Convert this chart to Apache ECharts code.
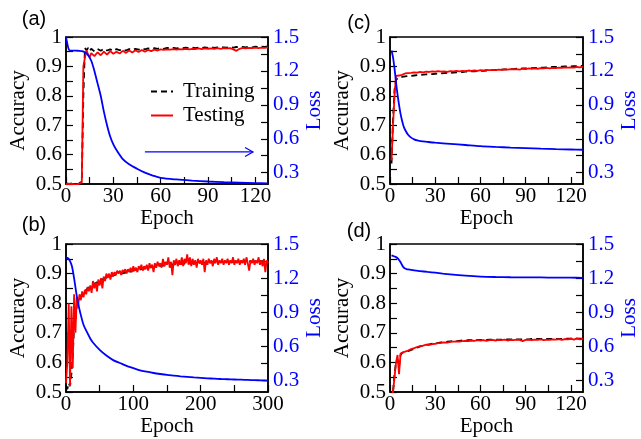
<!DOCTYPE html>
<html><head><meta charset="utf-8">
<script src="https://cdn.jsdelivr.net/npm/echarts@6/dist/echarts.min.js"></script>
<style>html,body{margin:0;padding:0;background:#fff}#c{width:641px;height:439px}</style>
</head><body><div id="c"></div><script>
function range(a,b,s){const r=[];for(let v=a;v<=b+1e-9;v+=s)r.push(+v.toFixed(4));return r;}

// ---- tick values / labels ----
const accTicks = [0.5,0.55,0.6,0.65,0.7,0.75,0.8,0.85,0.9,0.95,1.0];
const accLabels = [0.5,0.6,0.7,0.8,0.9,1.0];
const lossTicks = [0.3,0.45,0.6,0.75,0.9,1.05,1.2,1.35,1.5];
const lossLabels = [0.3,0.6,0.9,1.2,1.5];
const epochTicks128 = [0,15,30,45,60,75,90,105,120];
const epochLabels128 = [0,30,60,90,120];
const epochTicks300 = [0,50,100,150,200,250,300];
const epochLabels300 = [0,100,200,300];

// ---- panel (a) ----
const epochsA = [0,2,4,6,8,9,10,11,12,13,14,15].concat(range(16,128,2));
const trainA = [0.502,0.500,0.502,0.500,0.500,0.500,0.510,0.800,0.962,0.955,0.963,0.952,
 0.960,0.951,0.959,0.953,0.960,0.954,0.958,0.953,0.959,0.955,
 0.958,0.954,0.959,0.956,0.960,0.957,0.961,0.958,0.961,0.959,
 0.962,0.960,0.962,0.960,0.963,0.961,0.963,0.961,0.963,0.962,
 0.964,0.962,0.964,0.962,0.964,0.963,0.965,0.963,0.965,0.963,
 0.965,0.964,0.965,0.964,0.966,0.964,0.966,0.965,0.966,0.965,
 0.967,0.965,0.967,0.966,0.967,0.966,0.968];
const testA = [0.500,0.500,0.500,0.498,0.500,0.500,0.505,0.900,0.930,0.955,0.940,0.932,
 0.945,0.935,0.948,0.938,0.950,0.940,0.952,0.943,0.950,0.944,
 0.953,0.946,0.954,0.947,0.955,0.949,0.956,0.950,0.956,0.952,
 0.957,0.954,0.958,0.956,0.958,0.957,0.959,0.957,0.959,0.958,
 0.960,0.958,0.960,0.959,0.961,0.959,0.961,0.960,0.961,0.960,
 0.962,0.960,0.962,0.961,0.962,0.958,0.953,0.960,0.963,0.961,
 0.963,0.962,0.964,0.962,0.964,0.963,0.965];
const lossEpochsA = [0,1,2,4,6,8,10,12,14,16,18,20,22,24,26,28,30,32,36,40,45,50,55,60,70,80,90,100,110,120,128];
const lossA = [1.50,1.43,1.385,1.38,1.38,1.378,1.375,1.365,1.34,1.29,1.20,1.09,0.98,0.84,0.72,0.62,0.55,0.50,0.42,0.375,0.335,0.30,0.275,0.255,0.24,0.23,0.222,0.216,0.212,0.208,0.205];

// ---- panel (b) ----
const epochsB = range(0,300,2);
const trainB = [
 0.52,0.51,0.53,0.52,0.56,0.62,0.72,0.74,0.79,0.80,
 0.815,0.82,0.83,0.835,0.84,0.845,0.85,0.852,0.856,0.858,
 0.862,0.865,0.868,0.87,0.873,0.875,0.878,0.879,0.882,0.883,
 0.886,0.887,0.889,0.89,0.892,0.893,0.895,0.896,0.898,0.899,
 0.90,0.905,0.901,0.907,0.903,0.909,0.905,0.911,0.907,0.913,
 0.91,0.915,0.912,0.917,0.913,0.919,0.915,0.921,0.917,0.923,
 0.919,0.924,0.92,0.926,0.922,0.927,0.923,0.929,0.925,0.93,
 0.926,0.931,0.927,0.932,0.928,0.933,0.929,0.934,0.93,0.935,
 0.931,0.936,0.932,0.937,0.933,0.937,0.933,0.938,0.934,0.938,
 0.934,0.939,0.935,0.939,0.935,0.94,0.936,0.94,0.936,0.94,
 0.937,0.941,0.937,0.941,0.937,0.942,0.938,0.942,0.938,0.942,
 0.938,0.942,0.938,0.943,0.939,0.943,0.939,0.943,0.939,0.943,
 0.939,0.944,0.94,0.944,0.94,0.944,0.94,0.944,0.94,0.945,
 0.94,0.945,0.941,0.945,0.941,0.945,0.941,0.945,0.941,0.946,
 0.941,0.946,0.942,0.946,0.942,0.946,0.942,0.946,0.942,0.946,
 0.943];
const testB = [
 0.53,0.60,0.80,0.52,0.79,0.58,0.83,0.70,0.82,0.79,
 0.83,0.81,0.84,0.82,0.845,0.83,0.855,0.84,0.86,0.835,
 0.875,0.85,0.87,0.84,0.88,0.86,0.885,0.85,0.89,0.875,
 0.90,0.885,0.90,0.88,0.905,0.89,0.905,0.895,0.91,0.90,
 0.91,0.895,0.912,0.905,0.915,0.90,0.915,0.905,0.92,0.905,
 0.925,0.91,0.92,0.905,0.925,0.915,0.93,0.91,0.925,0.915,
 0.93,0.91,0.935,0.92,0.93,0.905,0.935,0.92,0.94,0.925,
 0.935,0.92,0.95,0.925,0.94,0.93,0.955,0.92,0.94,0.895,
 0.945,0.93,0.95,0.925,0.945,0.93,0.955,0.925,0.95,0.935,
 0.965,0.93,0.955,0.925,0.95,0.93,0.945,0.92,0.95,0.935,
 0.945,0.93,0.95,0.905,0.945,0.93,0.95,0.935,0.945,0.925,
 0.95,0.935,0.955,0.93,0.945,0.935,0.95,0.93,0.945,0.935,
 0.95,0.93,0.945,0.935,0.955,0.93,0.945,0.935,0.95,0.93,
 0.945,0.935,0.95,0.93,0.955,0.935,0.91,0.945,0.935,0.95,
 0.93,0.945,0.935,0.955,0.93,0.945,0.925,0.95,0.905,0.945,
 0.935];
const lossEpochsB = [0,3,6,9,12,15,18,21,26,30,36,40,50,60,70,80,90,100,110,120,130,140,150,160,170,180,190,200,210,220,230,240,250,260,270,280,290,300];
const lossB = [1.38,1.375,1.35,1.30,1.20,1.08,0.98,0.90,0.79,0.74,0.67,0.635,0.57,0.52,0.48,0.455,0.43,0.41,0.39,0.378,0.367,0.358,0.35,0.344,0.338,0.333,0.328,0.324,0.32,0.317,0.314,0.312,0.31,0.308,0.306,0.304,0.302,0.30];

// ---- panel (c) ----
const epochsC = [1,2,3,4,5,6,7,8,9,10].concat(range(12,128,2));
const trainC = [0.57,0.72,0.82,0.855,0.860,0.862,0.863,0.864,0.865,0.866,
 0.867,0.868,0.869,0.870,0.871,0.872,0.873,0.874,0.874,0.875,
 0.876,0.876,0.877,0.878,0.878,0.879,0.880,0.880,0.881,0.882,
 0.882,0.883,0.883,0.884,0.885,0.885,0.886,0.887,0.887,0.888,
 0.888,0.889,0.890,0.890,0.891,0.891,0.892,0.892,0.893,0.893,
 0.894,0.894,0.895,0.895,0.896,0.896,0.897,0.897,0.898,0.898,
 0.899,0.899,0.900,0.900,0.900,0.901,0.901,0.902,0.902];
const testC = [0.58,0.70,0.80,0.868,0.874,0.869,0.866,0.871,0.873,0.876,
 0.877,0.878,0.880,0.879,0.881,0.880,0.882,0.881,0.883,0.882,
 0.884,0.882,0.883,0.881,0.884,0.883,0.885,0.883,0.885,0.884,
 0.886,0.885,0.886,0.885,0.887,0.886,0.888,0.887,0.888,0.887,
 0.889,0.888,0.890,0.889,0.891,0.890,0.891,0.889,0.892,0.891,
 0.893,0.892,0.893,0.892,0.894,0.893,0.895,0.893,0.895,0.894,
 0.896,0.895,0.897,0.896,0.897,0.896,0.898,0.897,0.899];
const lossEpochsC = [1,2,3,4,5,6,7,8,9,10,12,14,16,18,20,25,30,40,50,60,70,80,90,100,110,120,128];
const lossC = [1.38,1.32,1.22,1.10,0.99,0.90,0.82,0.76,0.71,0.68,0.635,0.61,0.595,0.585,0.58,0.572,0.565,0.555,0.545,0.535,0.528,0.522,0.517,0.512,0.508,0.505,0.503];

// ---- panel (d) ----
const epochsD = [1,2,3,4,5,6,7,8,9,10].concat(range(12,128,2));
const trainD = [0.47,0.50,0.56,0.60,0.61,0.585,0.625,0.632,0.634,0.636,
 0.638,0.642,0.646,0.650,0.654,0.657,0.659,0.661,0.663,0.665,
 0.666,0.668,0.669,0.670,0.671,0.672,0.672,0.673,0.674,0.674,
 0.675,0.675,0.675,0.676,0.676,0.676,0.676,0.677,0.677,0.677,
 0.677,0.677,0.678,0.678,0.678,0.678,0.678,0.678,0.678,0.678,
 0.678,0.679,0.679,0.679,0.679,0.679,0.679,0.679,0.679,0.679,
 0.679,0.679,0.680,0.680,0.680,0.680,0.680,0.680,0.680];
const testD = [0.47,0.50,0.55,0.60,0.625,0.56,0.63,0.63,0.635,0.637,
 0.640,0.645,0.648,0.652,0.655,0.657,0.660,0.659,0.662,0.663,
 0.665,0.666,0.668,0.667,0.669,0.670,0.671,0.670,0.672,0.673,
 0.672,0.674,0.673,0.675,0.674,0.675,0.673,0.675,0.676,0.674,
 0.676,0.675,0.677,0.674,0.676,0.675,0.677,0.676,0.672,0.676,
 0.677,0.675,0.677,0.676,0.678,0.675,0.677,0.676,0.678,0.677,
 0.679,0.676,0.679,0.678,0.680,0.677,0.681,0.678,0.680];
const lossEpochsD = [1,2,3,4,5,6,7,8,9,10,11,12,14,16,20,25,30,35,40,50,60,70,80,90,100,110,120,128];
const lossD = [1.40,1.395,1.39,1.385,1.375,1.36,1.34,1.315,1.295,1.285,1.28,1.277,1.272,1.268,1.262,1.255,1.248,1.24,1.233,1.222,1.214,1.21,1.208,1.207,1.206,1.205,1.204,1.203];

const panelLabels = ['(a)','(b)','(c)','(d)'];
const arrowFrom = [50, 0.609], arrowTo = [118.5, 0.609];

// ---- styles ----
const SERIF = '"Liberation Serif","Times New Roman",serif';
const SANS = '"Liberation Sans",Arial,sans-serif';
const FS = 21;
function pairs(xs, ys){ return ys.map((y,i)=>[xs[i], y]); }

const grids = [
 {left:66, top:37, width:202, height:147},
 {left:66, top:244, width:202, height:148},
 {left:390, top:37, width:199, height:147},
 {left:390, top:244, width:199, height:148}
].map(g=>Object.assign({show:true,borderColor:'#000',borderWidth:1.5,backgroundColor:'transparent'},g));

function xAx(gi, max, ticks, labels){
 return {type:'value', gridIndex:gi, min:0, max:max, position:'bottom',
  axisLine:{show:true,onZero:false,lineStyle:{color:'#000',width:1.5}},
  axisTick:{show:true,inside:true,length:7,customValues:ticks,lineStyle:{color:'#000',width:1.2}},
  axisLabel:{customValues:labels,color:'#000',fontFamily:SERIF,fontSize:FS,margin:2},
  splitLine:{show:false},
  name:'Epoch',nameLocation:'middle',nameGap:22,
  nameTextStyle:{color:'#000',fontFamily:SERIF,fontSize:21}};
}
function yAcc(gi){
 return {type:'value', gridIndex:gi, min:0.5, max:1, position:'left',
  axisLine:{show:true,onZero:false,lineStyle:{color:'#000',width:1.5}},
  axisTick:{show:true,inside:true,length:7,customValues:accTicks,lineStyle:{color:'#000',width:1.2}},
  axisLabel:{customValues:accLabels,color:'#000',fontFamily:SERIF,fontSize:FS,margin:4,
    formatter:v=>Math.abs(v-1)<1e-6?'1':v.toFixed(1)},
  splitLine:{show:false},
  name:'Accuracy',nameLocation:'middle',nameGap:37,nameRotate:90,
  nameTextStyle:{color:'#000',fontFamily:SERIF,fontSize:21}};
}
function yLoss(gi){
 return {type:'value', gridIndex:gi, min:0.2, max:1.5, position:'right',
  axisLine:{show:true,onZero:false,lineStyle:{color:'#000',width:1.5}},
  axisTick:{show:true,inside:true,length:7,customValues:lossTicks,lineStyle:{color:'#000',width:1.2}},
  axisLabel:{customValues:lossLabels,color:'#0000ff',fontFamily:SERIF,fontSize:FS,margin:5,
    formatter:v=>v.toFixed(1)},
  splitLine:{show:false},
  name:'Loss',nameLocation:'middle',nameGap:36,nameRotate:90,
  nameTextStyle:{color:'#0000ff',fontFamily:SERIF,fontSize:21}};
}

const panels = [
 {ep:epochsA, tr:trainA, te:testA, le:lossEpochsA, lo:lossA},
 {ep:epochsB, tr:trainB, te:testB, le:lossEpochsB, lo:lossB},
 {ep:epochsC, tr:trainC, te:testC, le:lossEpochsC, lo:lossC},
 {ep:epochsD, tr:trainD, te:testD, le:lossEpochsD, lo:lossD}
];
const series = [];
panels.forEach((p,gi)=>{
 series.push({name:'Training', type:'line', xAxisIndex:gi, yAxisIndex:2*gi, data:pairs(p.ep,p.tr),
  symbol:'none', showSymbol:false, clip:true, animation:false,
  lineStyle:{color:'#000',width:1.8,type:[6,4]}, itemStyle:{color:'#000'}});
 series.push({name:'Testing', type:'line', xAxisIndex:gi, yAxisIndex:2*gi, data:pairs(p.ep,p.te),
  symbol:'none', showSymbol:false, clip:true, animation:false,
  lineStyle:{color:'#ff0000',width:1.8}, itemStyle:{color:'#ff0000'}});
 series.push({name:'Loss', type:'line', xAxisIndex:gi, yAxisIndex:2*gi+1, data:pairs(p.le,p.lo),
  symbol:'none', showSymbol:false, clip:true, animation:false, smooth:0.3,
  lineStyle:{color:'#0000ff',width:1.8}, itemStyle:{color:'#0000ff'}});
});

const chart = echarts.init(document.getElementById('c'), null, {renderer:'canvas'});
chart.setOption({
 animation:false,
 backgroundColor:'#fff',
 grid:grids,
 xAxis:[xAx(0,128,epochTicks128,epochLabels128), xAx(1,300,epochTicks300,epochLabels300),
        xAx(2,128,epochTicks128,epochLabels128), xAx(3,128,epochTicks128,epochLabels128)],
 yAxis:[yAcc(0),yLoss(0),yAcc(1),yLoss(1),yAcc(2),yLoss(2),yAcc(3),yLoss(3)],
 legend:{data:['Training','Testing'], orient:'vertical', left:145, top:76,
  itemWidth:22, itemHeight:2, itemGap:3, selectedMode:false,
  itemStyle:{opacity:0},
  textStyle:{color:'#000',fontFamily:SERIF,fontSize:21,padding:[0,0,0,5]}},
 series:series
});

const p1 = chart.convertToPixel({xAxisIndex:0,yAxisIndex:0}, arrowFrom);
const p2 = chart.convertToPixel({xAxisIndex:0,yAxisIndex:0}, arrowTo);
const labelPos = [[34,19],[34,225],[359,23],[359,231]];
const graphics = panelLabels.map((t,i)=>({type:'text', x:labelPos[i][0], y:labelPos[i][1],
 style:{text:t, fill:'#000', font:'20px '+SANS, textAlign:'center', textVerticalAlign:'middle'}}));
graphics.push({type:'line', shape:{x1:p1[0],y1:p1[1],x2:p2[0],y2:p2[1]}, style:{stroke:'#0000ff',lineWidth:1.2}});
graphics.push({type:'polyline', shape:{points:[[p2[0]-8,p2[1]-4.5],[p2[0],p2[1]],[p2[0]-8,p2[1]+4.5]]}, style:{stroke:'#0000ff',lineWidth:1.2,fill:null}});
chart.setOption({graphic:graphics});
</script></body></html>
